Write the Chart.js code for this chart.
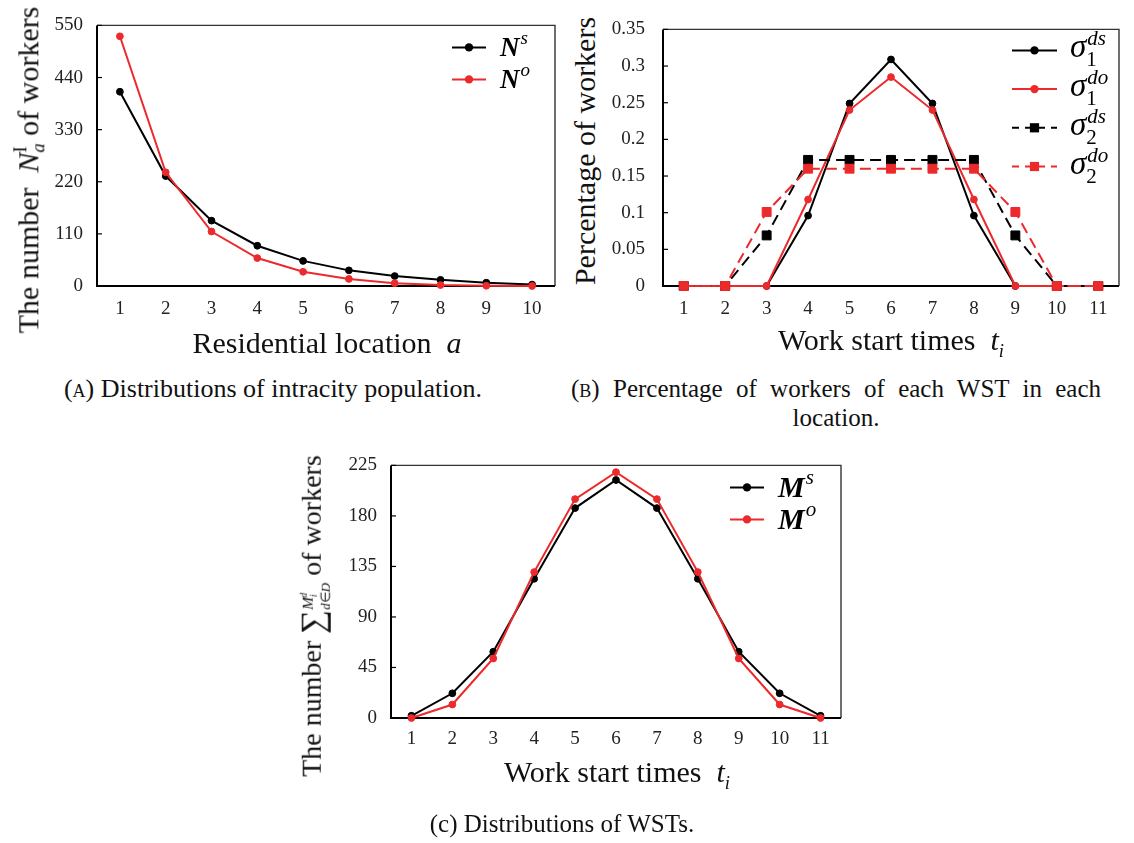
<!DOCTYPE html>
<html>
<head>
<meta charset="utf-8">
<script src="https://cdn.jsdelivr.net/npm/chart.js@4.4.1/dist/chart.umd.min.js"></script>
<style>
  body { margin: 0; background: #fff; width: 1134px; height: 843px; position: relative; overflow: hidden;
         font-family: "Liberation Serif", serif; color: #111; }
  canvas { position: absolute; }
  .lbl { position: absolute; white-space: nowrap; transform: translate(-50%, -50%); font-size: 30px; line-height: 1; }
  .rot { transform: translate(-50%, -50%) rotate(-90deg); font-size: 28px; }
  .cap { position: absolute; font-size: 25px; line-height: 29px; white-space: nowrap; transform: translateX(-50%); }
  .ss { display: inline-block; vertical-align: -0.32em; font-size: 0.62em; line-height: 0.95; }
  .ss > span { display: block; }
  sub, sup { font-size: 0.62em; }
  .sc { font-variant: small-caps; }
</style>
</head>
<body>
<canvas id="chartA" width="528" height="330" style="left:37px;top:0"></canvas>
<canvas id="chartB" width="530" height="330" style="left:603px;top:0"></canvas>
<canvas id="chartC" width="530" height="330" style="left:331px;top:440px"></canvas>

<div class="lbl rot" style="left:29px;top:170px;font-size:30px">The number&nbsp;&nbsp;<i>N</i><span class="ss"><span>I</span><span><i>a</i></span></span> of workers</div>
<div class="lbl" style="left:327px;top:343px">Residential location&nbsp;&nbsp;<i>a</i></div>
<div class="cap" style="left:273px;top:374px;font-size:26px">(<span class="sc">a</span>) Distributions of intracity population.</div>

<div class="lbl rot" style="left:585px;top:151px;font-size:30px">Percentage of workers</div>
<div class="lbl" style="left:891px;top:343px">Work start times&nbsp;&nbsp;<i>t</i><sub><i>i</i></sub></div>
<div class="cap" style="left:836px;top:374px;width:530px;white-space:normal;text-align:justify;text-align-last:center">(<span class="sc">b</span>) Percentage of workers of each WST in each location.</div>

<div class="lbl rot" style="left:314px;top:616px">The number <span style="font-size:1.2em;vertical-align:-0.08em">&sum;</span><span class="ss" style="font-size:0.55em;vertical-align:-0.55em;line-height:1.05"><span><i>M</i><sub><i>i</i></sub><sup style="margin-left:-0.35em"><i>d</i></sup></span><span style="font-size:0.85em"><i>d</i>&isin;<i>D</i></span></span>&nbsp;of workers</div>
<div class="lbl" style="left:617px;top:775px">Work start times&nbsp;&nbsp;<i>t</i><sub><i>i</i></sub></div>
<div class="cap" style="left:562px;top:809px">(c) Distributions of WSTs.</div>

<script>
// Figure (a): intracity population by residential location
const locations = ['1', '2', '3', '4', '5', '6', '7', '8', '9', '10'];
const nS = [410, 232, 138, 85, 53, 33, 21, 13, 7, 3];
const nO = [527, 240, 115, 59, 30, 15, 6, 2, 0.5, 0];

// Figure (b): share of workers per work start time
const wst = ['1', '2', '3', '4', '5', '6', '7', '8', '9', '10', '11'];
const sigma1DS = [0, 0, 0, 0.096, 0.249, 0.309, 0.249, 0.096, 0, 0, 0];
const sigma1DO = [0, 0, 0, 0.118, 0.240, 0.285, 0.240, 0.118, 0, 0, 0];
const sigma2DS = [0, 0, 0.069, 0.172, 0.172, 0.172, 0.172, 0.172, 0.069, 0, 0];
const sigma2DO = [0, 0, 0.101, 0.160, 0.160, 0.160, 0.160, 0.160, 0.101, 0, 0];
const yTicksB = ['0', '0.05', '0.1', '0.15', '0.2', '0.25', '0.3', '0.35'];

// Figure (c): distributions of WSTs
const mS = [2, 22, 59, 124, 187, 212, 187, 124, 59, 22, 2];
const mO = [0, 12, 53, 130, 195, 219, 195, 130, 53, 12, 0];

const RED = '#ec2a2c';
const SERIF = '"Liberation Serif", serif';
const tickFont = { family: SERIF, size: 19 };

// box round the plot + short inward ticks on the y axis
const framePlugin = {
  id: 'frame',
  beforeDatasetsDraw(chart) {
    const { ctx, chartArea: a } = chart;
    const ys = chart.scales.y;
    ctx.save();
    ctx.strokeStyle = '#333';
    ctx.lineWidth = 1.4;
    ctx.beginPath();
    ctx.moveTo(a.left, a.top); ctx.lineTo(a.right, a.top); ctx.lineTo(a.right, a.bottom);
    ctx.stroke();
    ctx.strokeStyle = '#000';
    ctx.lineWidth = 2;
    ctx.beginPath();
    ctx.moveTo(a.left, a.top); ctx.lineTo(a.left, a.bottom); ctx.lineTo(a.right, a.bottom);
    ctx.stroke();
    ctx.lineWidth = 1.2;
    ys.ticks.forEach((t, i) => {
      const py = ys.getPixelForTick(i);
      ctx.beginPath(); ctx.moveTo(a.left, py); ctx.lineTo(a.left + 5, py); ctx.stroke();
    });
    ctx.restore();
  }
};

// legend with sub/superscripts drawn on the canvas
const mathLegend = {
  id: 'mathLegend',
  afterDatasetsDraw(chart, args, o) {
    if (!o.items) return;
    const { ctx, chartArea: a } = chart;
    o.items.forEach((it, i) => {
      const y = a.top + o.y0 + i * o.dy;
      const x1 = a.right + o.x1, x2 = a.right + o.x2, xm = (x1 + x2) / 2;
      ctx.save();
      ctx.strokeStyle = it.color;
      ctx.lineWidth = 2;
      ctx.setLineDash(it.dash || []);
      ctx.beginPath(); ctx.moveTo(x1, y); ctx.lineTo(x2, y); ctx.stroke();
      ctx.setLineDash([]);
      ctx.fillStyle = it.color;
      ctx.beginPath();
      if (it.square) ctx.rect(xm - 4.6, y - 4.6, 9.2, 9.2);
      else ctx.arc(xm, y, 4.2, 0, Math.PI * 2);
      ctx.fill();

      const tx = a.right + o.tx, by = y + o.baseDy;
      ctx.fillStyle = '#000';
      ctx.textAlign = 'left';
      ctx.textBaseline = 'alphabetic';
      ctx.font = o.baseFont;
      ctx.fillText(it.base, tx, by);
      const w = ctx.measureText(it.base).width;
      if (it.sup) {
        ctx.font = o.smallFont;
        ctx.fillText(it.sup, tx + w + 1, by - o.raise);
      }
      if (it.sub) {
        ctx.font = o.subFont || o.smallFont;
        ctx.fillText(it.sub, tx + w, by + o.drop);
      }
      ctx.restore();
    });
  }
};

function lineSet(data, color, opts) {
  return Object.assign({
    data: data,
    borderColor: color,
    backgroundColor: color,
    pointBackgroundColor: color,
    pointBorderColor: color,
    pointBorderWidth: 1,
    pointRadius: 3.4,
    borderWidth: 2,
    tension: 0,
    clip: false
  }, opts || {});
}

function makeScales(yMax, yStep, yPad, xPad, xHeight, tickCb) {
  const yTicks = { font: tickFont, color: '#222', padding: yPad, stepSize: yStep };
  if (tickCb) yTicks.callback = tickCb;
  return {
    x: {
      type: 'category', offset: true,
      grid: { display: false, drawTicks: false }, border: { display: false },
      ticks: { font: tickFont, color: '#222', padding: xPad, maxRotation: 0, autoSkip: false },
      afterFit: s => { s.height = xHeight; }
    },
    y: {
      min: 0, max: yMax,
      grid: { display: false, drawTicks: false }, border: { display: false },
      ticks: yTicks,
      afterFit: s => { s.width = 60; }
    }
  };
}

function baseOptions(scales, pad, legend) {
  return {
    responsive: false,
    animation: false,
    layout: { padding: pad },
    scales: scales,
    plugins: {
      legend: { display: false },
      tooltip: { enabled: false },
      mathLegend: legend
    }
  };
}

new Chart(document.getElementById('chartA'), {
  type: 'line',
  data: {
    labels: locations,
    datasets: [
      lineSet(nS, '#000', { order: 2 }),
      lineSet(nO, RED, { order: 1 })
    ]
  },
  options: baseOptions(
    makeScales(550, 110, 14, 12, 44),
    { top: 21, right: 10, left: 0, bottom: 0 },
    {
      x1: -103, x2: -69, tx: -55, y0: 22, dy: 32, baseDy: 9, raise: 12, drop: 8,
      baseFont: 'bold italic 27px ' + SERIF, smallFont: 'italic 19px ' + SERIF,
      items: [
        { color: '#000', base: 'N', sup: 's' },
        { color: RED, base: 'N', sup: 'o' }
      ]
    }
  ),
  plugins: [framePlugin, mathLegend]
});

new Chart(document.getElementById('chartB'), {
  type: 'line',
  data: {
    labels: wst,
    datasets: [
      lineSet(sigma1DS, '#000', { order: 4 }),
      lineSet(sigma1DO, RED, { order: 3 }),
      lineSet(sigma2DS, '#000', { order: 2, borderDash: [11, 6], pointStyle: 'rect', pointRadius: 6.3 }),
      lineSet(sigma2DO, RED, { order: 1, borderDash: [11, 6], pointStyle: 'rect', pointRadius: 6.3 })
    ]
  },
  options: baseOptions(
    makeScales(0.35, 0.05, 18, 12, 44, (v, i) => yTicksB[i]),
    { top: 16, right: 14, left: 0, bottom: 0 },
    {
      x1: -107, x2: -62, tx: -49, y0: 21, dy: 38.7, baseDy: 7, raise: 12, drop: 9,
      baseFont: 'italic 33px ' + SERIF, smallFont: 'italic 21px ' + SERIF, subFont: '21px ' + SERIF,
      items: [
        { color: '#000', base: 'σ', sup: 'ds', sub: '1' },
        { color: RED, base: 'σ', sup: 'do', sub: '1' },
        { color: '#000', base: 'σ', sup: 'ds', sub: '2', dash: [7, 6], square: true },
        { color: RED, base: 'σ', sup: 'do', sub: '2', dash: [7, 6], square: true }
      ]
    }
  ),
  plugins: [framePlugin, mathLegend]
});

new Chart(document.getElementById('chartC'), {
  type: 'line',
  data: {
    labels: wst,
    datasets: [
      lineSet(mS, '#000', { order: 2 }),
      lineSet(mO, RED, { order: 1 })
    ]
  },
  options: baseOptions(
    makeScales(225, 45, 14, 10, 52),
    { top: 23, right: 20, left: 0, bottom: 0 },
    {
      x1: -111, x2: -77, tx: -63, y0: 22, dy: 32, baseDy: 10, raise: 13, drop: 8,
      baseFont: 'bold italic 30px ' + SERIF, smallFont: 'italic 21px ' + SERIF,
      items: [
        { color: '#000', base: 'M', sup: 's' },
        { color: RED, base: 'M', sup: 'o' }
      ]
    }
  ),
  plugins: [framePlugin, mathLegend]
});
</script>
</body>
</html>
